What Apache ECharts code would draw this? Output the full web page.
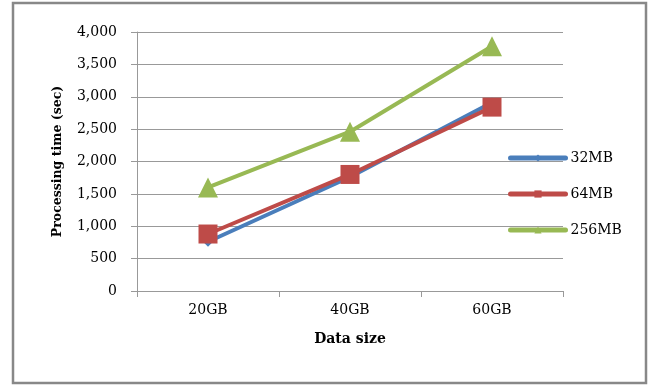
<!DOCTYPE html>
<html>
<head>
<meta charset="utf-8">
<script src="https://cdn.jsdelivr.net/npm/echarts@6/dist/echarts.min.js"></script>
<style>
  html, body { margin: 0; padding: 0; background: #fff; }
  #chart { width: 652px; height: 386px; }
</style>
</head>
<body>
<div id="chart"></div>
<script>
// Processing time by data size for three block sizes
const categories = ['20GB', '40GB', '60GB'];
const seriesNames = ['32MB', '64MB', '256MB'];
const time32MB = [760, 1760, 2910];
const time64MB = [880, 1800, 2840];
const time256MB = [1600, 2460, 3780];
const yTicks = { min: 0, max: 4000, interval: 500 };

const FONT = '"DejaVu Serif", "Liberation Serif", serif';
const colors = ['#4a7ebb', '#be4b48', '#98b954'];

const chart = echarts.init(document.getElementById('chart'), null, { renderer: 'canvas' });

function lineSeries(name, data, color, symbol, size) {
  return {
    name: name,
    type: 'line',
    data: data,
    symbol: symbol,
    symbolSize: size,
    showAllSymbol: true,
    lineStyle: { color: color, width: 4 },
    itemStyle: { color: color, borderWidth: 0 },
    emphasis: { disabled: true },
    animation: false
  };
}

chart.setOption({
  animation: false,
  backgroundColor: '#ffffff',
  textStyle: { fontFamily: FONT },
  grid: { left: 137, top: 32, right: 89, bottom: 95, containLabel: false },
  graphic: [{
    type: 'rect',
    shape: { x: 13, y: 3, width: 633, height: 380 },
    style: { fill: 'none', stroke: '#888888', lineWidth: 2.5 },
    silent: true
  }],
  legend: {
    orient: 'vertical',
    left: 508,
    top: 151,
    padding: 0,
    itemWidth: 55,
    itemHeight: 9,
    itemGap: 22,
    lineStyle: { width: 5, cap: 'round' },
    textStyle: { fontFamily: FONT, fontSize: 14, color: '#000' },
    data: seriesNames
  },
  xAxis: {
    type: 'category',
    data: categories,
    boundaryGap: true,
    name: 'Data size',
    nameLocation: 'middle',
    nameGap: 41,
    nameTextStyle: { fontFamily: FONT, fontSize: 14, fontWeight: 'bold', color: '#000' },
    axisLine: { lineStyle: { color: '#999', width: 1 } },
    axisTick: { show: true, length: 6, lineStyle: { color: '#999' } },
    axisLabel: { margin: 12, fontFamily: FONT, fontSize: 14, color: '#000' },
    splitLine: { show: false }
  },
  yAxis: {
    type: 'value',
    min: yTicks.min,
    max: yTicks.max,
    interval: yTicks.interval,
    name: 'Processing time (sec)',
    nameLocation: 'middle',
    nameGap: 73,
    nameTextStyle: { fontFamily: FONT, fontSize: 12.5, fontWeight: 'bold', color: '#000' },
    axisLine: { show: true, lineStyle: { color: '#999', width: 1 } },
    axisTick: { show: true, length: 6, lineStyle: { color: '#999' } },
    axisLabel: {
      margin: 20,
      fontFamily: FONT,
      fontSize: 14,
      color: '#000',
      formatter: v => v.toLocaleString('en-US')
    },
    splitLine: { show: true, lineStyle: { color: '#999', width: 1 } }
  },
  series: [
    lineSeries(seriesNames[0], time32MB, colors[0], 'diamond', 10),
    lineSeries(seriesNames[1], time64MB, colors[1], 'rect', 19),
    lineSeries(seriesNames[2], time256MB, colors[2], 'triangle', 20)
  ]
});
</script>
</body>
</html>
